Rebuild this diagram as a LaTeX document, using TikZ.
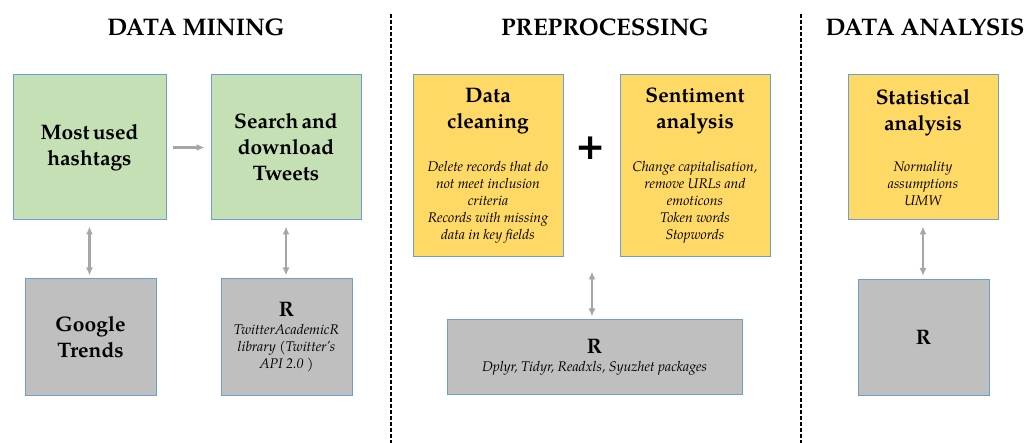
\documentclass[tikz,border=0pt]{standalone}
\usepackage{fontspec}
\setmainfont{TeX Gyre Pagella}
\newfontfamily\plusfont{DejaVu Sans}
\usetikzlibrary{arrows.meta}
\definecolor{minegreen}{HTML}{C5E0B4}
\definecolor{prepyellow}{HTML}{FFD966}
\definecolor{toolgray}{HTML}{BFBFBF}
\definecolor{boxedge}{HTML}{6A9FCF}
\definecolor{linkgray}{HTML}{A6A6A6}
\newcommand{\boxhead}{\fontsize{21}{26}\selectfont\bfseries}
\newcommand{\boxnote}{\fontsize{14}{17}\selectfont\itshape}
\tikzset{
	box/.style={draw=boxedge, line width=1pt, inner sep=0pt, align=center},
	stagehead/.style={font=\fontsize{24}{28}\selectfont\bfseries},
	link/.style={draw=linkgray, line width=2.2pt, {Latex[length=8pt,width=7pt]}-{Latex[length=8pt,width=7pt]}, shorten <=6pt, shorten >=3pt},
	sep/.style={line width=2pt, dash pattern=on 4pt off 2pt}
}
\begin{document}
\begin{tikzpicture}[x=1pt, y=-1pt]
	\useasboundingbox (0,0) rectangle (1026,443);
	\node[stagehead] (mining) at (196,27) {DATA MINING};
	\node[stagehead] (prep) at (605,27) {PREPROCESSING};
	\node[stagehead] (analysis) at (925,27) {DATA ANALYSIS};
	\draw[sep] (391,14)--(391,443);
	\draw[sep] (801,14)--(801,443);
	\node[box, fill=minegreen, minimum width=153, minimum height=145, text width=145] (hashtags) at (89.5,147.5) {\boxhead Most used\\ hashtags\par};
	\node[box, fill=minegreen, minimum width=150, minimum height=145, text width=142] (tweets) at (286,147.5) {\boxhead Search and\\ download\\ Tweets\par};
	\node[box, fill=toolgray, minimum width=131, minimum height=117, text width=123] (trends) at (90.5,337.5) {\boxhead Google\\ Trends\par};
	\node[box, fill=toolgray, minimum width=131, minimum height=117, text width=129] (rtwitter) at (286.5,337.5) {{\boxhead R\par}\vspace{1pt}{\boxnote TwitterAcademicR\\ library (Twitter's\\ API 2.0 )\par}};
	\node[box, fill=prepyellow, minimum width=150, minimum height=182, text width=148] (cleaning) at (488,166) {{\boxhead Data\\ cleaning\par}\vspace{26pt}{\boxnote Delete records that do\\ not meet inclusion\\ criteria\\ Records with missing\\ data in key fields\par}};
	\node[font=\plusfont\fontsize{36}{36}\selectfont\bfseries] (plus) at (591,148) {+};
	\node[box, fill=prepyellow, minimum width=150, minimum height=182, text width=148] (sentiment) at (695,166) {{\boxhead Sentiment\\ analysis\par}\vspace{26pt}{\boxnote Change capitalisation,\\ remove URLs and\\ emoticons\\ Token words\\ Stopwords\par}};
	\node[box, fill=toolgray, minimum width=295, minimum height=75, text width=285] (rprep) at (594.5,357.5) {{\boxhead R\par}\vspace{1pt}{\boxnote Dplyr, Tidyr, Readxls, Syuzhet packages\par}};
	\node[box, fill=prepyellow, minimum width=150, minimum height=145, text width=142] (stats) at (923,147.5) {{\boxhead Statistical\\ analysis\par}\vspace{24pt}{\boxnote Normality\\ assumptions\\ UMW\par}};
	\node[box, fill=toolgray, minimum width=131, minimum height=116, text width=123] (ranalysis) at (923.5,337.5) {\boxhead R\par};
	\draw[draw=linkgray, line width=2.2pt, -{Latex[length=8pt,width=7pt]}, shorten <=6pt, shorten >=6pt] (hashtags)--(tweets);
	\draw[link] (hashtags.south)--(trends.north-|hashtags.south);
	\draw[link] (tweets.south)--(rtwitter.north-|tweets.south);
	\draw[link] (cleaning.south-|592,0)++(0,8)--(rprep.north-|592,0);
	\draw[link] (stats.south)--(ranalysis.north-|stats.south);
\end{tikzpicture}
\end{document}
